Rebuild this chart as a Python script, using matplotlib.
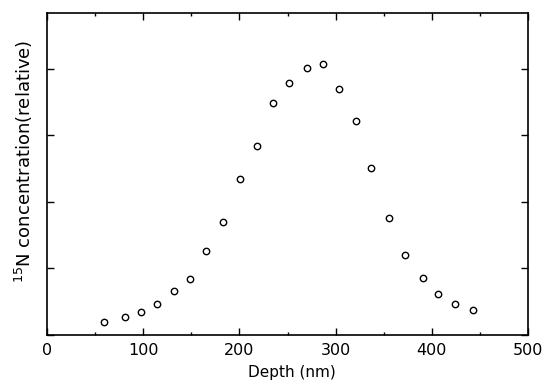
import matplotlib
matplotlib.use('Agg')
import matplotlib.pyplot as plt
from matplotlib.ticker import MultipleLocator, NullFormatter

# depth profile (y in tick units, ticks unlabeled)
depth = [59, 81, 98, 114, 132, 149, 165, 183, 201, 218, 235, 252, 270,
         287, 304, 321, 337, 355, 372, 391, 406, 424, 443]
conc = [0.19, 0.27, 0.35, 0.47, 0.66, 0.84, 1.26, 1.70, 2.35, 2.84, 3.49,
        3.79, 4.01, 4.07, 3.70, 3.22, 2.51, 1.76, 1.21, 0.86, 0.61, 0.47, 0.37]
xticks = [0, 100, 200, 300, 400, 500]

plt.rcParams.update({'font.family': 'DejaVu Sans'})

fig = plt.figure(figsize=(5.44, 3.84), dpi=100)
ax = fig.add_axes([47 / 544, 1 - 335 / 384, 481 / 544, 322 / 384])

ax.plot(depth, conc, linestyle='none', marker='o', ms=4.6, mfc='white',
        mec='black', mew=1.0)

ax.set_xlim(0, 500)
ax.set_ylim(0, 4.84)
ax.set_xticks(xticks)
ax.xaxis.set_minor_locator(MultipleLocator(50))
ax.yaxis.set_major_locator(MultipleLocator(1))
ax.yaxis.set_major_formatter(NullFormatter())

ax.tick_params(which='both', direction='in', top=True, right=True,
               width=1.0, labelsize=11.5, pad=6)
ax.tick_params(which='major', length=5)
ax.tick_params(which='minor', length=2.5)
for s in ax.spines.values():
    s.set_linewidth(1.2)

ax.set_xlabel('Depth (nm)', fontsize=11)
ax.xaxis.set_label_coords(0.51, -0.092)
ax.set_ylabel('$^{15}$N concentration(relative)', fontsize=13)
ax.yaxis.set_label_coords(-0.025, 0.54)

fig.savefig('out.png', dpi=100)
